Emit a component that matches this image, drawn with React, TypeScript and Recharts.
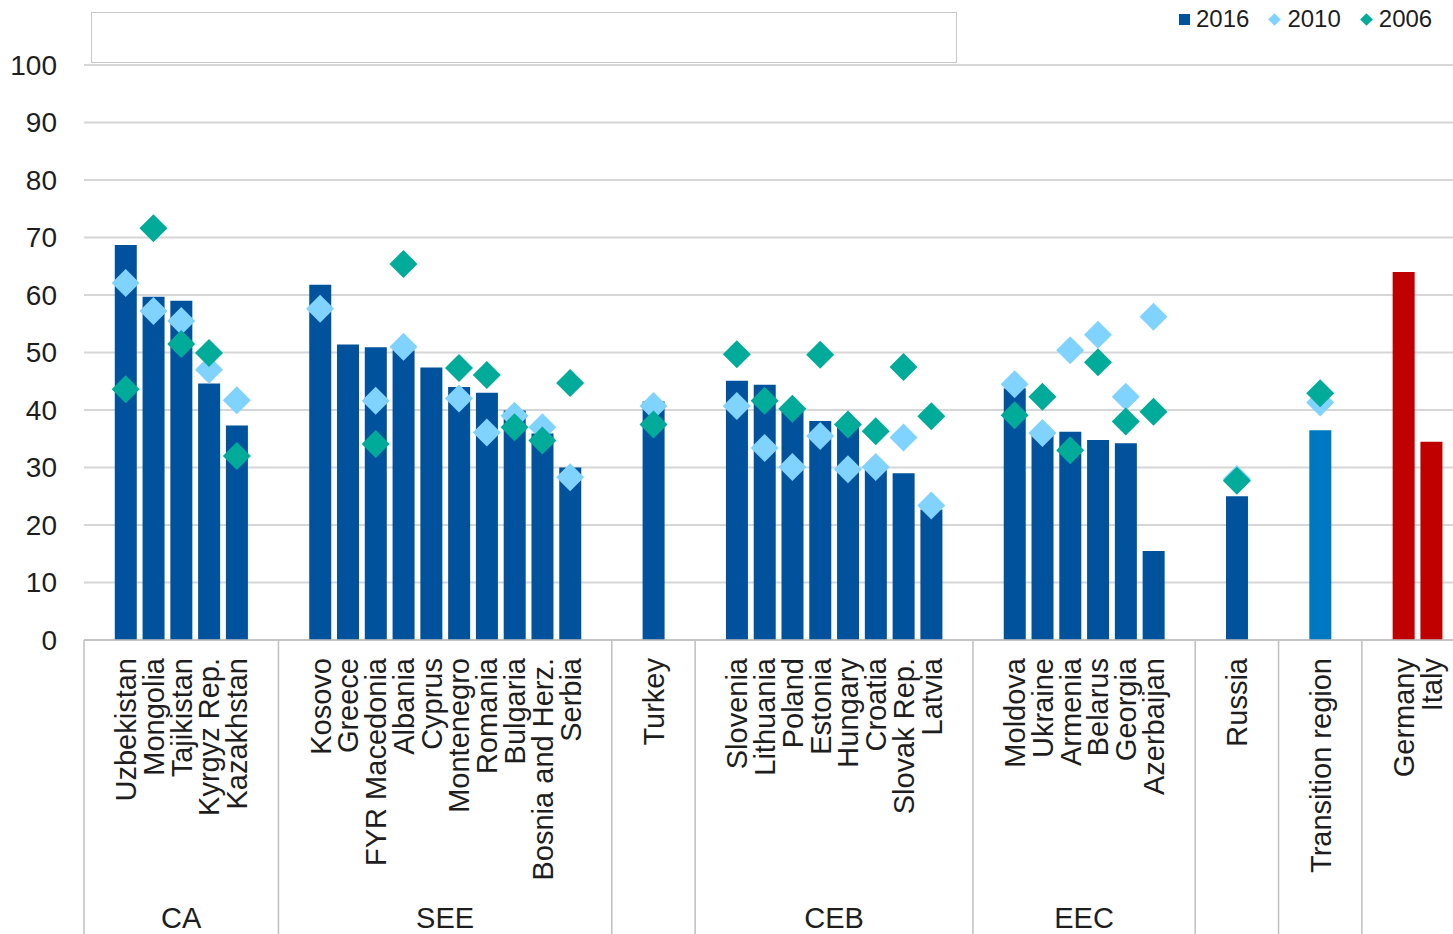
import { ComposedChart, Bar, Scatter, Cell, XAxis, YAxis, CartesianGrid } from "recharts";

// regions along the axis, and how many countries sit in each
const regionNames = ["CA", "SEE", "", "CEB", "EEC", "", "", ""];
const regionSizes = [5, 10, 1, 8, 6, 1, 1, 2];

const countries = [
  "Uzbekistan", "Mongolia", "Tajikistan", "Kyrgyz Rep.", "Kazakhstan",
  "Kosovo", "Greece", "FYR Macedonia", "Albania", "Cyprus", "Montenegro", "Romania", "Bulgaria", "Bosnia and Herz.", "Serbia",
  "Turkey",
  "Slovenia", "Lithuania", "Poland", "Estonia", "Hungary", "Croatia", "Slovak Rep.", "Latvia",
  "Moldova", "Ukraine", "Armenia", "Belarus", "Georgia", "Azerbaijan",
  "Russia",
  "Transition region",
  "Germany", "Italy",
];

const share2016 = [
  68.7, 59.7, 59.0, 44.6, 37.3,
  61.8, 51.4, 50.9, 50.4, 47.4, 44.0, 43.0, 39.9, 35.9, 30.0,
  41.5,
  45.1, 44.4, 40.3, 38.1, 37.0, 29.7, 29.0, 22.7,
  43.8, 35.8, 36.2, 34.8, 34.2, 15.5,
  25.0,
  36.5,
  64.0, 34.5,
];

const share2010 = [
  62.1, 57.2, 55.5, 47.0, 41.7,
  57.6, null, 41.6, 51.0, null, 42.0, 36.1, 39.0, 37.0, 28.3,
  40.7,
  40.7, 33.4, 30.1, 35.5, 29.7, 30.1, 35.2, 23.4,
  44.5, 36.0, 50.4, 53.1, 42.3, 56.2,
  28.0,
  41.3,
  null, null,
];

const share2006 = [
  43.6, 71.6, 51.5, 49.9, 32.0,
  null, null, 34.1, 65.4, null, 47.3, 46.1, 37.0, 34.7, 44.7,
  37.5,
  49.7, 41.6, 40.2, 49.6, 37.5, 36.3, 47.5, 38.9,
  39.1, 42.3, 33.0, 48.3, 38.0, 39.7,
  27.7,
  42.9,
  null, null,
];

const yTicks = [0, 10, 20, 30, 40, 50, 60, 70, 80, 90, 100];

const BLUE = "#00529C";
const LIGHT_BLUE = "#80D3FF";
const TEAL = "#00AC99";
const barColors: Record<string, string> = {
  "Transition region": "#0078C1",
  Germany: "#C00000",
  Italy: "#C00000",
};

const FONT = "'Liberation Sans', Arial, sans-serif";
const TEXT = "#1E1E1E";
const LINE = "#BFBFBF";

const WIDTH = 1473;
const HEIGHT = 934;
const Y_AXIS_W = 84;

type Row = {
  key: string;
  country: string;
  region: string;
  regionStart: boolean;
  regionSlots: number;
  v2016: number | null;
  v2010: number | null;
  v2006: number | null;
};

// each region gets an empty slot on both sides
const rows: Row[] = [];
let offset = 0;
regionNames.forEach((region, gi) => {
  const slots = regionSizes[gi] + 2;
  for (let s = 0; s < slots; s++) {
    const pad = s === 0 || s === slots - 1;
    const i = offset + s - 1;
    rows.push({
      key: pad ? `pad-${gi}-${s}` : countries[i],
      country: pad ? "" : countries[i],
      region,
      regionStart: s === 0,
      regionSlots: slots,
      v2016: pad ? null : share2016[i],
      v2010: pad ? null : share2010[i],
      v2006: pad ? null : share2006[i],
    });
  }
  offset += regionSizes[gi];
});

const BAND = (WIDTH - Y_AXIS_W) / rows.length;

const CountryTick = (props: any) => {
  const { x, y, payload } = props;
  const row = rows[payload.index];
  if (!row) return <g />;
  const half = payload.offset || BAND / 2;
  const left = x - half;
  const ty = y + 18;
  return (
    <g>
      {row.country && (
        <text
          x={x}
          y={ty}
          transform={`rotate(-90, ${x}, ${ty})`}
          textAnchor="end"
          dy="0.36em"
          fontSize={29}
          fontFamily={FONT}
          fill={TEXT}
        >
          {row.country}
        </text>
      )}
      {row.regionStart && <line x1={left} x2={left} y1={y} y2={y + 300} stroke={LINE} strokeWidth={1.5} />}
      {row.regionStart && row.region && (
        <text
          x={left + half * row.regionSlots}
          y={y + 288}
          textAnchor="middle"
          fontSize={29}
          fontFamily={FONT}
          fill={TEXT}
        >
          {row.region}
        </text>
      )}
    </g>
  );
};

const diamond = (field: "v2010" | "v2006", color: string) => (props: any) => {
  const { cx, cy, payload } = props;
  if (payload?.[field] == null || !Number.isFinite(cx) || !Number.isFinite(cy)) return <g />;
  const r = 14;
  return <path d={`M${cx},${cy - r}L${cx + r},${cy}L${cx},${cy + r}L${cx - r},${cy}Z`} fill={color} />;
};

const legendItems = [
  { label: "2016", color: BLUE, square: true },
  { label: "2010", color: LIGHT_BLUE, square: false },
  { label: "2006", color: TEAL, square: false },
];

export default function App() {
  return (
    <div style={{ position: "absolute", left: 0, top: 0, width: 1453, height: HEIGHT, overflow: "hidden", background: "#fff" }}>
      <div
        style={{
          position: "absolute",
          left: 91,
          top: 12,
          width: 866,
          height: 51,
          border: "1px solid #C8C8C8",
          boxSizing: "border-box",
        }}
      />
      <div
        style={{
          position: "absolute",
          left: 1179,
          top: 6,
          display: "flex",
          alignItems: "center",
          fontFamily: FONT,
          fontSize: 24,
          lineHeight: "26px",
          color: TEXT,
          zIndex: 2,
        }}
      >
        {legendItems.map((it) => (
          <div key={it.label} style={{ display: "flex", alignItems: "center", marginRight: 19 }}>
            {it.square ? (
              <span style={{ width: 11, height: 11, background: it.color, marginRight: 6 }} />
            ) : (
              <span style={{ width: 9, height: 9, background: it.color, transform: "rotate(45deg)", margin: "0 8px 0 2px" }} />
            )}
            <span>{it.label}</span>
          </div>
        ))}
      </div>
      <ComposedChart
        width={WIDTH}
        height={HEIGHT}
        data={rows}
        margin={{ top: 65, right: 0, bottom: 0, left: 0 }}
        barSize={22}
      >
        <CartesianGrid vertical={false} stroke="#D6D6D6" strokeWidth={2} />
        <YAxis
          domain={[0, 100]}
          ticks={yTicks}
          width={Y_AXIS_W}
          axisLine={false}
          tickLine={false}
          tickSize={0}
          tickMargin={27}
          tick={{ fontSize: 28, fontFamily: FONT, fill: TEXT }}
        />
        <XAxis
          dataKey="key"
          height={294}
          interval={0}
          tickLine={false}
          tickSize={0}
          tickMargin={0}
          axisLine={{ stroke: LINE, strokeWidth: 1.5 }}
          tick={<CountryTick />}
        />
        <Bar dataKey="v2016" name="2016" fill={BLUE} isAnimationActive={false}>
          {rows.map((r) => (
            <Cell key={r.key} fill={barColors[r.country] || BLUE} />
          ))}
        </Bar>
        <Scatter dataKey="v2010" name="2010" fill={LIGHT_BLUE} shape={diamond("v2010", LIGHT_BLUE)} isAnimationActive={false} />
        <Scatter dataKey="v2006" name="2006" fill={TEAL} shape={diamond("v2006", TEAL)} isAnimationActive={false} />
      </ComposedChart>
    </div>
  );
}
